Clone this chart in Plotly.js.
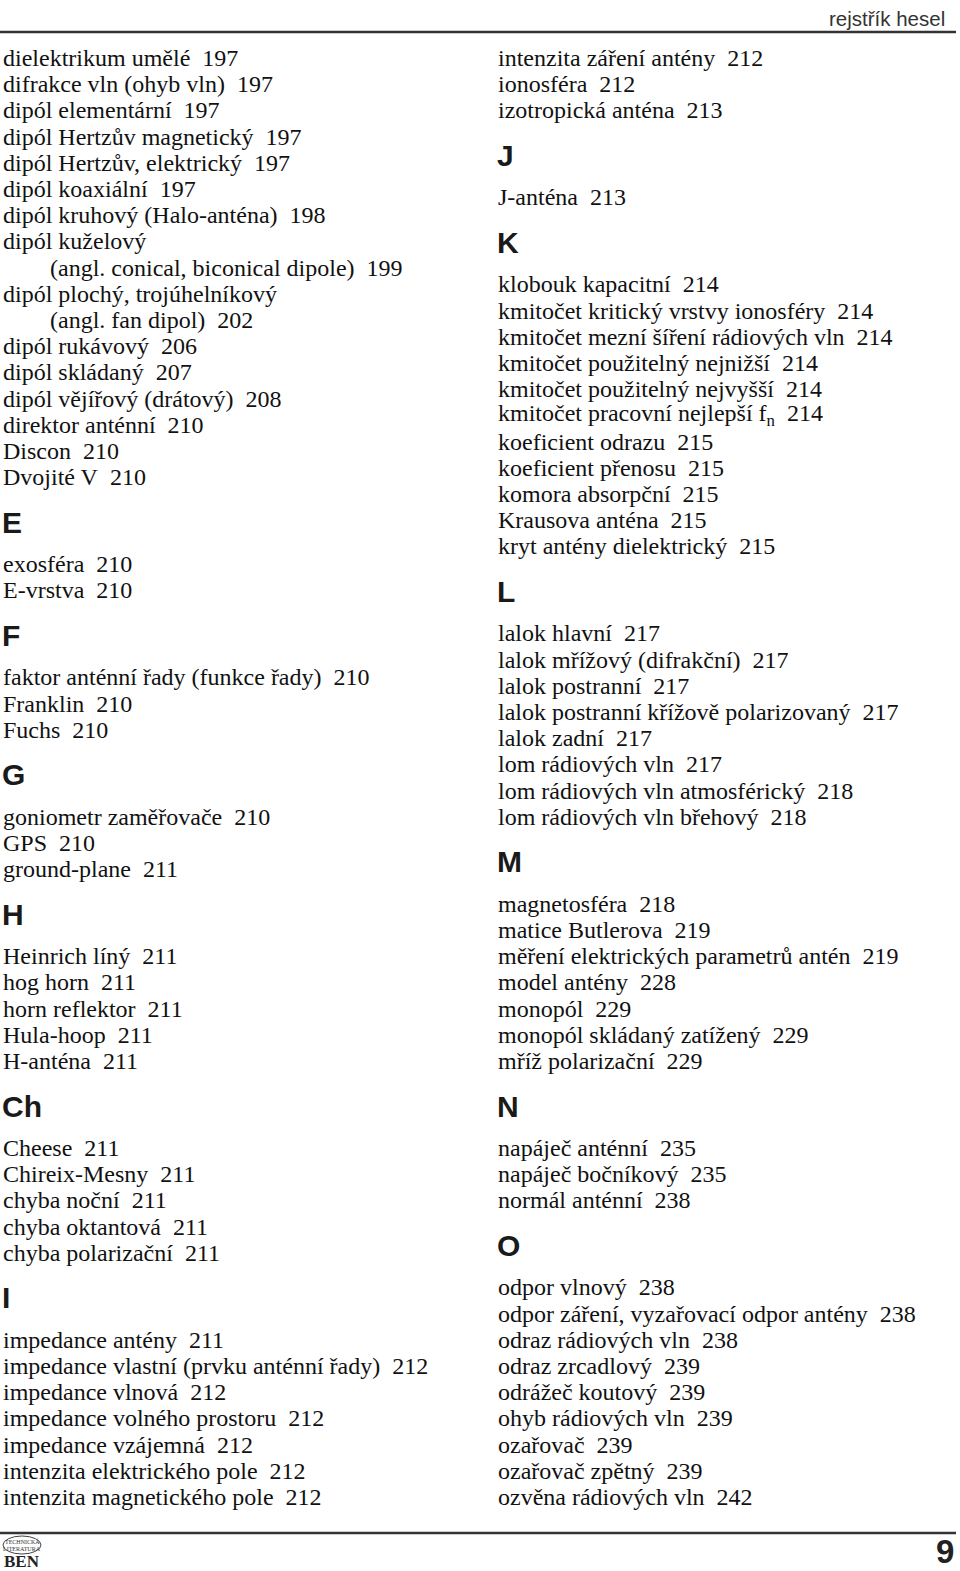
<!DOCTYPE html>
<html><head><meta charset="utf-8">
<script src="https://cdn.plot.ly/plotly-3.0.1.min.js"></script>
<style>html,body{margin:0;padding:0;background:#fff}#chart{width:960px;height:1571px}</style>
</head><body><div id="chart"></div>
<script>
// Index entries: "#X" = section heading, otherwise term; page numbers in parallel arrays ("" = none)
const leftTerms = [
 "dielektrikum umělé","difrakce vln (ohyb vln)","dipól elementární","dipól Hertzův magnetický",
 "dipól Hertzův, elektrický","dipól koaxiální","dipól kruhový (Halo-anténa)","dipól kuželový",
 "(angl. conical, biconical dipole)","dipól plochý, trojúhelníkový","(angl. fan dipol)","dipól rukávový",
 "dipól skládaný","dipól vějířový (drátový)","direktor anténní","Discon","Dvojité V",
 "#E","exosféra","E-vrstva",
 "#F","faktor anténní řady (funkce řady)","Franklin","Fuchs",
 "#G","goniometr zaměřovače","GPS","ground-plane",
 "#H","Heinrich líný","hog horn","horn reflektor","Hula-hoop","H-anténa",
 "#Ch","Cheese","Chireix-Mesny","chyba noční","chyba oktantová","chyba polarizační",
 "#I","impedance antény","impedance vlastní (prvku anténní řady)","impedance vlnová",
 "impedance volného prostoru","impedance vzájemná","intenzita elektrického pole","intenzita magnetického pole"
];
const leftPages = [
 "197","197","197","197","197","197","198","",
 "199","","202","206","207","208","210","210","210",
 "","210","210",
 "","210","210","210",
 "","210","210","211",
 "","211","211","211","211","211",
 "","211","211","211","211","211",
 "","211","212","212","212","212","212","212"
];
const rightTerms = [
 "intenzita záření antény","ionosféra","izotropická anténa",
 "#J","J-anténa",
 "#K","klobouk kapacitní","kmitočet kritický vrstvy ionosféry","kmitočet mezní šíření rádiových vln",
 "kmitočet použitelný nejnižší","kmitočet použitelný nejvyšší","kmitočet pracovní nejlepší f<sub>n</sub>",
 "koeficient odrazu","koeficient přenosu","komora absorpční","Krausova anténa","kryt antény dielektrický",
 "#L","lalok hlavní","lalok mřížový (difrakční)","lalok postranní","lalok postranní křížově polarizovaný",
 "lalok zadní","lom rádiových vln","lom rádiových vln atmosférický","lom rádiových vln břehový",
 "#M","magnetosféra","matice Butlerova","měření elektrických parametrů antén","model antény",
 "monopól","monopól skládaný zatížený","mříž polarizační",
 "#N","napáječ anténní","napáječ bočníkový","normál anténní",
 "#O","odpor vlnový","odpor záření, vyzařovací odpor antény","odraz rádiových vln","odraz zrcadlový",
 "odrážeč koutový","ohyb rádiových vln","ozařovač","ozařovač zpětný","ozvěna rádiových vln"
];
const rightPages = [
 "212","212","213",
 "","213",
 "","214","214","214","214","214","214","215","215","215","215","215",
 "","217","217","217","217","217","217","218","218",
 "","218","219","219","228","229","229","229",
 "","235","235","238",
 "","238","238","238","239","239","239","239","239","242"
];
const headerText = "rejstřík hesel";
const pageNumber = "9";
const logoWords = ["TECHNICKÁ", "LITERATURA", "BEN"];

const ann = [];
function column(terms, pages, x0) {
  let y = 58, first = true, prevHeading = false;
  terms.forEach((t, i) => {
    if (t.startsWith("#")) {
      y += 45;
      ann.push({x: x0 - 1, y: y, text: t.slice(1), xref: "x", yref: "y", xanchor: "left", yanchor: "middle",
        showarrow: false, font: {family: "Liberation Sans, Arial, sans-serif", size: 30, color: "#1a1a1a", weight: 700}});
      prevHeading = true;
      return;
    }
    if (!first) y += prevHeading ? 42 : 26.2;
    first = false; prevHeading = false;
    const indent = t.startsWith("(") ? 47 : 0;
    const txt = pages[i] ? t + "\u00a0\u00a0" + pages[i] : t;
    ann.push({x: x0 + indent, y: y, text: txt, xref: "x", yref: "y", xanchor: "left", yanchor: "middle",
      showarrow: false, font: {family: "Liberation Serif, Times New Roman, serif", size: 24, color: "#111"}});
  });
}
column(leftTerms, leftPages, 1);
column(rightTerms, rightPages, 496);

ann.push({x: 947, y: 18, text: headerText, xref: "x", yref: "y", xanchor: "right", yanchor: "middle", showarrow: false,
  font: {family: "Liberation Sans, Arial, sans-serif", size: 20.5, color: "#333"}});
ann.push({x: 956, y: 1551, text: pageNumber, xref: "x", yref: "y", xanchor: "right", yanchor: "middle", showarrow: false,
  font: {family: "Liberation Sans, Arial, sans-serif", size: 33, color: "#222", weight: 700}});
ann.push({x: 22, y: 1541, text: logoWords[0], xref: "x", yref: "y", xanchor: "center", yanchor: "middle", showarrow: false,
  font: {family: "Liberation Serif, serif", size: 6, color: "#333"}});
ann.push({x: 22, y: 1549, text: logoWords[1], xref: "x", yref: "y", xanchor: "center", yanchor: "middle", showarrow: false,
  font: {family: "Liberation Serif, serif", size: 6, color: "#333"}});
ann.push({x: 22, y: 1561, text: logoWords[2], xref: "x", yref: "y", xanchor: "center", yanchor: "middle", showarrow: false,
  font: {family: "Liberation Serif, serif", size: 17, color: "#222", weight: 700}});

const shapes = [
  {type: "line", xref: "x", yref: "y", x0: 0, x1: 956, y0: 32, y1: 32, line: {color: "#333", width: 2.5}},
  {type: "line", xref: "x", yref: "y", x0: 0, x1: 956, y0: 1533, y1: 1533, line: {color: "#333", width: 2.5}},
  {type: "circle", xref: "x", yref: "y", x0: 3, x1: 41, y0: 1536, y1: 1554, line: {color: "#444", width: 1}}
];

Plotly.newPlot("chart", [], {
  width: 960, height: 1571, margin: {l: 0, r: 0, t: 0, b: 0},
  paper_bgcolor: "#fff", plot_bgcolor: "#fff",
  xaxis: {range: [0, 960], visible: false, fixedrange: true},
  yaxis: {range: [1571, 0], visible: false, fixedrange: true},
  annotations: ann, shapes: shapes, showlegend: false
}, {staticPlot: true, displayModeBar: false});
</script></body></html>
